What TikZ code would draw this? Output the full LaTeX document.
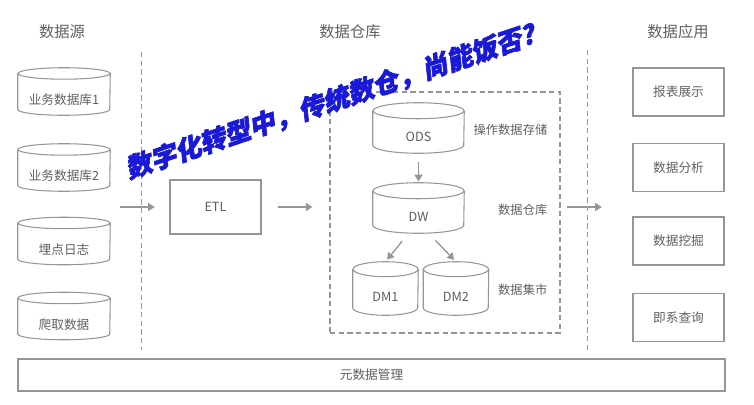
\documentclass[tikz,border=0pt]{standalone}
\usepackage{fontspec}
\setmainfont{Noto Sans CJK SC}
\newfontfamily\wmfont{Noto Sans CJK SC}[BoldFeatures={FakeBold=2.5}]
\usetikzlibrary{arrows.meta}
\definecolor{trait}{RGB}{150,150,150}
\definecolor{texte}{RGB}{95,95,95}
\definecolor{bleu}{RGB}{25,25,215}
\tikzset{
  base/.style={draw=trait, line width=0.8pt, text=texte, font=\fontsize{9.5}{11}\selectfont},
  cyl/.style={draw=trait, line width=0.8pt},
  bddtxt/.style={text=texte, font=\fontsize{9.5}{11}\selectfont, inner sep=0pt, text height=21pt, text depth=1pt},
  boite/.style={base, rectangle, minimum width=68.25pt, minimum height=36pt},
  fleche/.style={draw=trait, line width=1pt, -{Triangle[length=5pt,width=6pt]}},
  separ/.style={draw=trait, line width=0.6pt, dash pattern=on 4pt off 2.5pt},
  titre/.style={text=texte, font=\fontsize{11.5}{13}\selectfont},
  legende/.style={text=texte, font=\fontsize{9.2}{11}\selectfont, anchor=east},
}
% cylindre : nom, position, largeur, hauteur, rayon de l'ellipse, texte
\newcommand{\cylindre}[6]{%
  \node[bddtxt, minimum width=#3, minimum height=#4] (#1) at #2 {#6};
  \draw[cyl] ([yshift=-#5]#1.north) ellipse [x radius=0.5*#3, y radius=#5];
  \draw[cyl] ([yshift=-#5]#1.north west) -- ([yshift=#5]#1.south west)
    arc[start angle=180, end angle=360, x radius=0.5*#3, y radius=#5]
    -- ([yshift=-#5]#1.north east);
}
\begin{document}
\begin{tikzpicture}[x=0.75pt, y=-0.75pt]
  \useasboundingbox (0,0) rectangle (754,404);

  % Titres des colonnes
  \node[titre] (tsrc) at (62,32) {数据源};
  \node[titre] (tdw) at (350,32) {数据仓库};
  \node[titre] (tapp) at (678,32) {数据应用};

  % Séparateurs
  \coordinate (S1h) at (141,52);
  \coordinate (S1b) at (141,350);
  \coordinate (S2h) at (587,50);
  \coordinate (S2b) at (587,352);
  \draw[separ] (S1h) -- (S1b);
  \draw[separ] (S2h) -- (S2b);

  % Sources
  \cylindre{src1}{(64,91.5)}{69pt}{35.25pt}{4.3pt}{业务数据库1}
  \cylindre{src2}{(64,167.5)}{69pt}{35.25pt}{4.3pt}{业务数据库2}
  \cylindre{src3}{(64,241)}{69pt}{35.25pt}{4.3pt}{埋点日志}
  \cylindre{src4}{(64,316)}{69pt}{35.25pt}{4.3pt}{爬取数据}

  % ETL
  \node[boite, minimum height=40.5pt] (etl) at (215.5,207) {ETL};

  % Entrepôt
  \node[draw=trait, line width=0.8pt, dash pattern=on 4pt off 2.5pt,
        minimum width=172.5pt, minimum height=180.75pt] (entrepot) at (445,212.5) {};
  \cylindre{ods}{(418.5,128)}{68.25pt}{37.5pt}{6pt}{ODS}
  \cylindre{dw}{(418.5,208)}{68.25pt}{37.5pt}{6pt}{DW}
  \cylindre{dm1}{(385.5,288.5)}{48.75pt}{39.75pt}{5.6pt}{DM1}
  \cylindre{dm2}{(456,288.5)}{48.75pt}{39.75pt}{5.6pt}{DM2}
  \node[legende] (lods) at (552,130) {操作数据存储};
  \node[legende] (ldw) at (552,210) {数据仓库};
  \node[legende] (ldm) at (552,290) {数据集市};

  % Applications
  \node[boite] (app1) at (678.5,92) {报表展示};
  \node[boite] (app2) at (678.5,167.5) {数据分析};
  \node[boite] (app3) at (678.5,241) {数据挖掘};
  \node[boite] (app4) at (678.5,317.5) {即系查询};

  % Métadonnées
  \node[base, minimum width=530.25pt, minimum height=24pt] (meta) at (371.5,375) {元数据管理};

  % Flèches
  \draw[fleche, shorten <=7.5pt, shorten >=11pt] (etl.west -| src2.east) -- (etl.west);
  \draw[fleche, shorten <=12pt, shorten >=12.75pt] (etl.east) -- (etl.east -| entrepot.west);
  \draw[fleche, shorten <=4.5pt, shorten >=23pt] (etl.east -| entrepot.east) -- (etl.east -| app1.west);
  \draw[fleche, shorten <=6.5pt, shorten >=1pt] (ods.south) -- (dw.north);
  \draw[fleche, shorten <=7.5pt, shorten >=2pt] ([xshift=-7.5pt]dw.south) -- (dm1.north);
  \draw[fleche, shorten <=7.5pt, shorten >=2pt] ([xshift=7.5pt]dw.south) -- (dm2.north);

  % Bandeau
  \node[rotate=18.5, xslant=0.22, transform shape, text=bleu,
        font=\wmfont\bfseries\fontsize{19.5}{24}\selectfont] (slogan) at (332,101) {数字化转型中，传统数仓，尚能饭否?};
\end{tikzpicture}
\end{document}
